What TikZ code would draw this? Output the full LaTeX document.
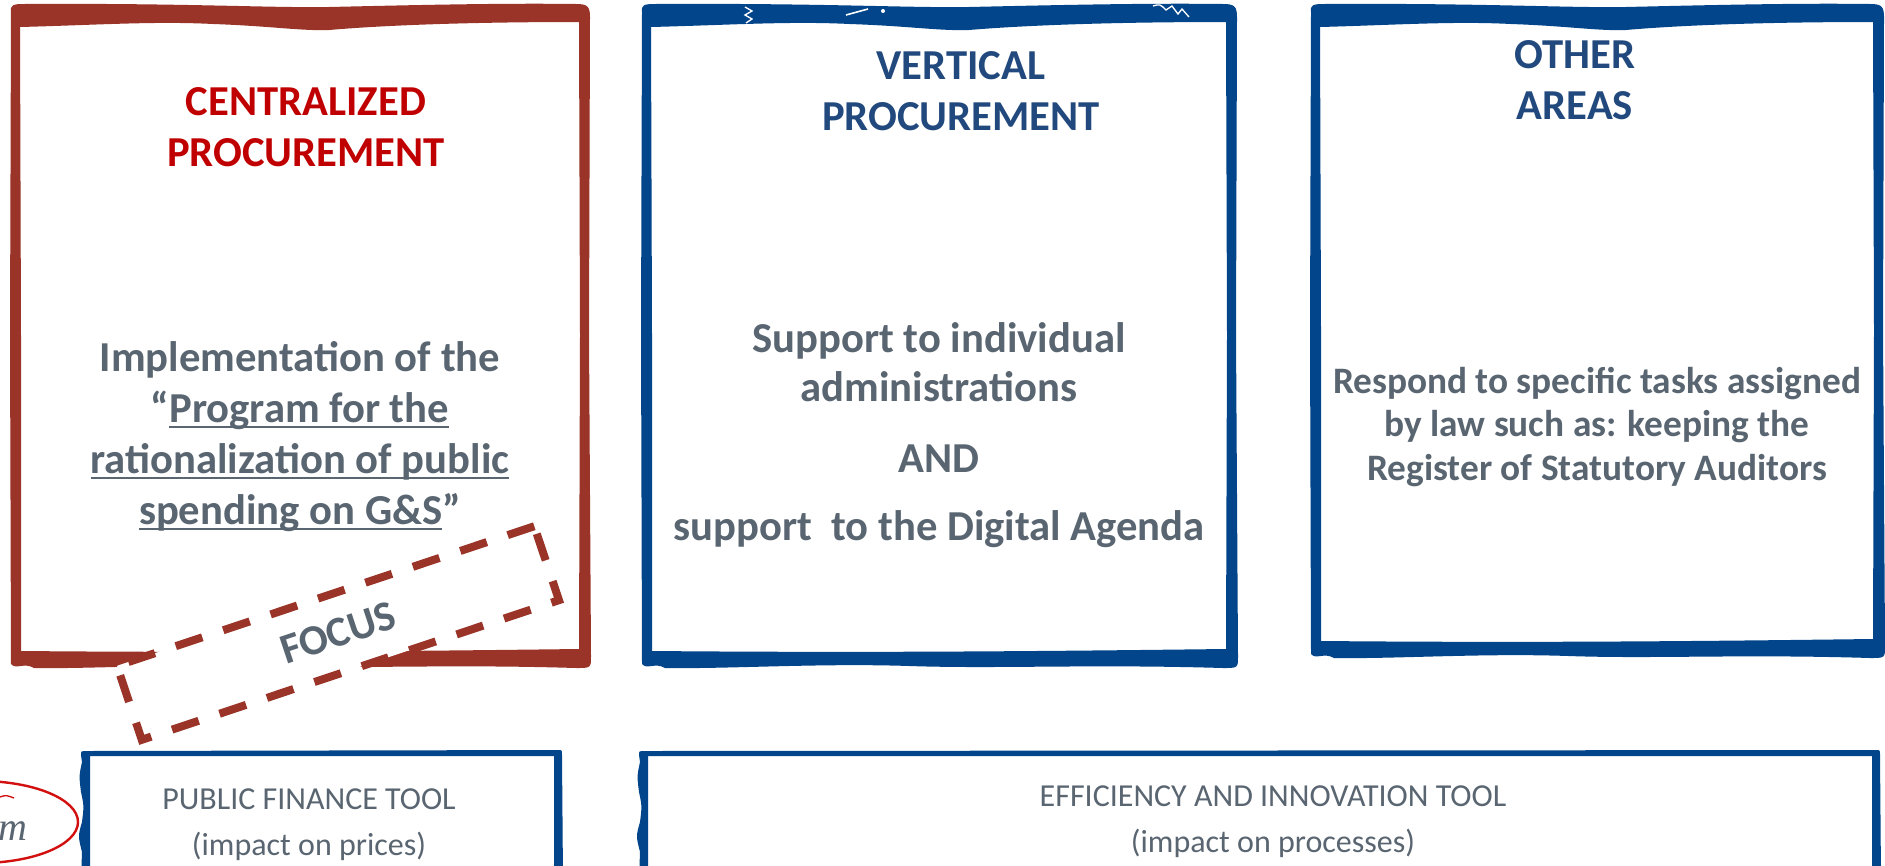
\documentclass[tikz,border=0pt]{standalone}
\usepackage{fontspec}
\setmainfont{Carlito}
\newfontfamily\handfont{Liberation Serif}
\usetikzlibrary{calc}

\definecolor{framered}{RGB}{155,52,40}
\definecolor{frameblue}{RGB}{2,69,138}
\definecolor{titlered}{RGB}{192,0,0}
\definecolor{titleblue}{RGB}{33,73,125}
\definecolor{textgray}{RGB}{89,101,112}
\definecolor{penred}{RGB}{210,16,16}

\newcommand\ulbar[1]{\setbox0\hbox{#1}\rlap{\rule[-4.5pt]{\wd0}{1.5pt}}\box0}

% hand drawn frame: [colour](left,top)(width,height), all in px
\def\handframe[#1](#2,#3)(#4,#5){
	\begin{scope}[shift={(#2,#3)}]
		\fill[#1,even odd rule]
			(1,9) .. controls (0,2) and (3,1) .. (14,1)
			.. controls ({0.3*#4},0) and ({0.45*#4},5) .. ({0.55*#4},4)
			.. controls ({0.7*#4},2) and ({0.85*#4},0) .. ({#4-14},1)
			.. controls ({#4-3},1) and (#4,3) .. (#4,14)
			-- ({#4-1},{0.5*#5}) -- ({#4+1},{#5-12})
			.. controls ({#4+1},#5) .. ({#4-14},#5)
			.. controls ({0.75*#4},{#5-4}) and ({0.6*#4},{#5+1}) .. ({0.45*#4},{#5-2})
			.. controls ({0.3*#4},{#5-5}) and ({0.15*#4},{#5+1}) .. (24,#5)
			.. controls (14,{#5-6}) and (6,{#5+2}) .. (1,{#5-4})
			-- (0,{0.5*#5}) -- cycle
			(10,24) .. controls ({0.15*#4},22) and ({0.25*#4},18) .. ({0.35*#4},21)
			.. controls ({0.45*#4},23) and ({0.5*#4},28) .. ({0.55*#4},27)
			.. controls ({0.65*#4},22) and ({0.8*#4},19) .. ({#4-11},19)
			-- ({#4-10},{0.5*#5}) -- ({#4-11},{#5-19})
			.. controls ({0.7*#4},{#5-17}) and ({0.4*#4},{#5-15}) .. (11,{#5-17})
			-- (11,{0.5*#5}) -- cycle;
	\end{scope}
}
% open bottom frame of the tool bars: (left,right)
\def\toolframe(#1,#2){
	\fill[frameblue,even odd rule]
		(#1,755) .. controls (#1,751) .. ({#1+6},751) -- ({#2-4},750)
		.. controls (#2,750) .. (#2,755) -- ({#2+1},880) -- (#1,880)
		-- ({#1+1},852) .. controls ({#1-3},836) .. ({#1+1},822)
		.. controls ({#1+3},806) .. (#1,792) .. controls ({#1-2},776) .. ({#1+1},762) -- cycle
		({#1+9},756) -- ({#2-8},756) -- ({#2-8},880) -- ({#1+9},880) -- cycle;
}

\begin{document}
\begin{tikzpicture}[x=0.75pt,y=-0.75pt,
	head/.style={font=\bfseries\fontsize{32}{38.25}\selectfont, align=center, anchor=base, inner sep=0pt},
	body/.style={head, text=textgray},
	note/.style={body, font=\bfseries\fontsize{28}{32.6}\selectfont},
	tool/.style={font=\fontsize{24}{34.5}\selectfont, text=textgray, align=center, anchor=base, inner sep=0pt},
	focusbox/.style={draw=framered, fill=white, line width=6pt, dash pattern=on 21pt off 16.5pt,
		minimum width=330pt, minimum height=58.5pt, rotate=18.5, text=textgray,
		font=\bfseries\fontsize{32}{38}\selectfont}]
	\useasboundingbox (0,0) rectangle (1885,865);
	\fill[white] (0,0) rectangle (1885,865);
	\clip (0,0) rectangle (1885,865);

	\handframe[framered](10,3)(580,665)
	\handframe[frameblue](641,3)(596,665)
	\handframe[frameblue](1310,3)(574,655)
	\toolframe(81,562)
	\toolframe(639,1880)

	% scribbles on the middle frame
	\draw[white, line width=1pt] (745,7) -- (752,11) -- (745,15) -- (752,19) -- (746,23);
	\draw[white, line width=1.2pt] (846,15) -- (868,9);
	\fill[white] (883,11) circle (2);
	\draw[white, line width=1pt] (1153,6) .. controls (1160,4) .. (1166,10) -- (1172,6) -- (1178,14) -- (1182,9) -- (1189,17);

	% nodes sit on the baseline of their last line
	\node[head, text=titlered] (central) at (306,166) {CENTRALIZED\\PROCUREMENT};
	\node[body] (program) at (300,524) {Implementation of the\\“\ulbar{Program for the}\\\ulbar{rationalization of public}\\\ulbar{spending on G\&S}”};

	\node[head, text=titleblue] (vertical) at (961,130) {VERTICAL\\PROCUREMENT};
	\node[body] (support) at (939,540) {Support to individual\\[-1.5pt]administrations\\[15pt]AND\\[12.75pt]support~ to the Digital Agenda};

	\node[head, text=titleblue] (other) at (1575,119) {OTHER\\AREAS};
	\node[note] (tasks) at (1597,480) {Respond to specific tasks assigned\\by law such as: keeping the\\Register of Statutory Auditors};

	\node[focusbox] (focus) at (338,633) {FOCUS};

	\node[tool] (finance) at (309,855) {PUBLIC FINANCE TOOL\\(impact on prices)};
	\node[tool] (efficiency) at (1273,852) {EFFICIENCY AND INNOVATION TOOL\\(impact on processes)};

	\draw[penred, line width=1.8pt] (-20,822) ellipse [x radius=98, y radius=41];
	\draw[penred, line width=1pt] (0,797) .. controls (6,795) .. (14,798);
	\node[font=\handfont\itshape\fontsize{30}{30}\selectfont, text=textgray, anchor=base west, inner sep=0pt] (mark) at (-2,840) {m};
\end{tikzpicture}
\end{document}
